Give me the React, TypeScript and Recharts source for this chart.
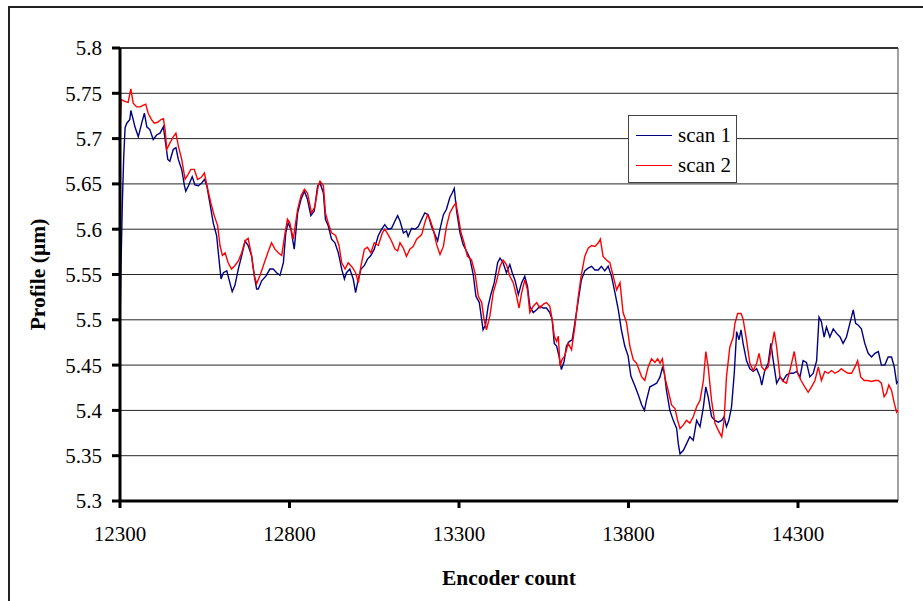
import React from 'react'
import { LineChart, Line, XAxis, YAxis, CartesianGrid, ReferenceLine } from 'recharts'

// scan 1 (navy) — encoder positions and profile
const scan1Enc = [
  12300, 12303, 12307, 12311, 12315, 12320, 12329, 12332, 12339, 12344, 12354, 12364, 12372, 12379, 12388, 12398,
  12408, 12418, 12428, 12433, 12441, 12447, 12457, 12465, 12472, 12482, 12490, 12494, 12502, 12513, 12521, 12531,
  12541, 12549, 12556, 12565, 12575, 12585, 12592, 12598, 12605, 12615, 12624, 12631, 12639, 12649, 12659, 12669,
  12678, 12688, 12696, 12703, 12708, 12718, 12732, 12742, 12752, 12762, 12772, 12782, 12789, 12796, 12804, 12814,
  12824, 12834, 12844, 12853, 12863, 12873, 12883, 12890, 12900, 12906, 12914, 12924, 12934, 12944, 12954, 12962,
  12968, 12978, 12988, 12995, 13003, 13011, 13021, 13030, 13040, 13050, 13062,
  13072, 13081, 13091, 13101, 13111, 13119, 13126, 13136, 13145, 13150, 13160, 13170, 13180, 13190, 13199, 13209,
  13219, 13229, 13237, 13244, 13254, 13263, 13273, 13280, 13286, 13293, 13303, 13312, 13322, 13332, 13342, 13350,
  13360, 13367, 13371, 13378, 13386, 13394, 13404, 13414, 13421, 13430, 13440, 13450, 13457, 13465, 13475, 13485,
  13494, 13502, 13509, 13519, 13529, 13539, 13548, 13558, 13568, 13575, 13581, 13588, 13595, 13602, 13610, 13617,
  13625, 13634, 13642, 13652, 13661, 13671, 13681, 13691, 13701, 13711, 13720, 13730, 13740, 13750, 13760, 13770,
  13779, 13789, 13799, 13807, 13819, 13829,
  13839, 13847, 13853, 13863, 13873, 13883, 13893, 13900, 13906, 13912, 13922, 13932, 13942, 13947, 13952, 13962,
  13971, 13981, 13991, 14001, 14011, 14021, 14028, 14035, 14045, 14055, 14065, 14075, 14082, 14089, 14096, 14104,
  14112, 14119, 14126, 14132, 14138, 14148, 14158, 14168, 14178, 14188, 14193, 14202, 14212, 14220, 14227, 14237,
  14247, 14256, 14266, 14276, 14286, 14296, 14306, 14315, 14325, 14335, 14345, 14355, 14362, 14369, 14377, 14384,
  14394, 14404, 14414, 14424, 14433, 14443, 14453, 14463, 14470, 14478, 14487, 14497, 14507, 14517, 14527, 14537,
  14546, 14556, 14566, 14576, 14584, 14591, 14595,
]
const scan1Profile = [
  5.495, 5.56, 5.63, 5.68, 5.712, 5.717, 5.721, 5.731, 5.721, 5.713, 5.702, 5.717, 5.728, 5.713, 5.71, 5.699,
  5.704, 5.706, 5.713, 5.699, 5.677, 5.675, 5.688, 5.69, 5.677, 5.666, 5.648, 5.642, 5.648, 5.658, 5.649, 5.648,
  5.651, 5.655, 5.648, 5.629, 5.607, 5.593, 5.567, 5.545, 5.552, 5.554, 5.541, 5.531, 5.538, 5.556, 5.571, 5.587,
  5.582, 5.571, 5.549, 5.534, 5.534, 5.543, 5.549, 5.556, 5.556, 5.552, 5.549, 5.563, 5.596, 5.607, 5.6, 5.578,
  5.618, 5.633, 5.642, 5.633, 5.615, 5.62, 5.648, 5.651, 5.64, 5.611, 5.604, 5.589, 5.585, 5.574, 5.556, 5.545,
  5.552, 5.556, 5.545, 5.53, 5.545, 5.556, 5.56, 5.567, 5.571, 5.578, 5.593,
  5.6, 5.605, 5.6, 5.601, 5.609, 5.615, 5.609, 5.596, 5.598, 5.592, 5.601, 5.6, 5.603, 5.611, 5.618, 5.616,
  5.603, 5.594, 5.587, 5.6, 5.616, 5.622, 5.635, 5.64, 5.645, 5.62, 5.596, 5.583, 5.576, 5.568, 5.55, 5.526,
  5.519, 5.5, 5.489, 5.494, 5.515, 5.528, 5.541, 5.563, 5.568, 5.563, 5.552, 5.561, 5.552, 5.544, 5.528, 5.541,
  5.548, 5.537, 5.515, 5.508, 5.511, 5.515, 5.513, 5.513, 5.508, 5.5, 5.474, 5.471, 5.46, 5.445, 5.454, 5.471,
  5.476, 5.478, 5.497, 5.522, 5.544, 5.554, 5.557, 5.559, 5.555, 5.555, 5.559, 5.554, 5.559, 5.548, 5.53, 5.511,
  5.489, 5.471, 5.46, 5.438, 5.427, 5.417,
  5.406, 5.4, 5.411, 5.426, 5.428, 5.43, 5.437, 5.447, 5.441, 5.422, 5.4, 5.389, 5.38, 5.363, 5.352, 5.356,
  5.363, 5.371, 5.367, 5.389, 5.382, 5.404, 5.426, 5.415, 5.393, 5.389, 5.387, 5.389, 5.393, 5.382, 5.389, 5.404,
  5.441, 5.487, 5.478, 5.489, 5.474, 5.455, 5.446, 5.443, 5.446, 5.437, 5.428, 5.444, 5.452, 5.474, 5.455, 5.43,
  5.437, 5.433, 5.439, 5.441, 5.441, 5.443, 5.437, 5.455, 5.453, 5.437, 5.441, 5.455, 5.503, 5.498, 5.481, 5.492,
  5.481, 5.49, 5.485, 5.481, 5.474, 5.481, 5.496, 5.511, 5.496, 5.494, 5.49, 5.474, 5.463, 5.459, 5.463, 5.465,
  5.45, 5.45, 5.459, 5.459, 5.448, 5.43, 5.432,
]

// scan 2 (red)
const scan2Enc = [
  12300, 12304, 12314, 12324, 12332, 12339, 12349, 12359, 12369, 12376, 12383, 12393, 12401, 12411, 12421, 12428,
  12433, 12438, 12447, 12457, 12465, 12472, 12482, 12492, 12500, 12509, 12519, 12529, 12539, 12549, 12559, 12568,
  12578, 12588, 12595, 12602, 12610, 12619, 12629, 12639, 12649, 12659, 12669, 12678, 12688, 12696, 12703, 12713,
  12723, 12736, 12747, 12757, 12767, 12777, 12787, 12794, 12801, 12811, 12824, 12834, 12844, 12853, 12865, 12875,
  12885, 12890, 12900, 12906, 12914, 12924, 12936, 12946, 12954, 12964, 12973, 12985, 12995, 13003, 13011, 13021,
  13030, 13040, 13050, 13062,
  13074, 13081, 13091, 13101, 13111, 13119, 13126, 13136, 13145, 13155, 13165, 13175, 13190, 13199, 13207, 13214,
  13224, 13234, 13244, 13254, 13263, 13273, 13283, 13291, 13298, 13306, 13315, 13325, 13337, 13347, 13357, 13367,
  13374, 13381, 13391, 13401, 13411, 13421, 13430, 13440, 13450, 13460, 13470, 13477, 13485, 13494, 13502, 13509,
  13519, 13529, 13539, 13548, 13558, 13568, 13575, 13581, 13588, 13593, 13598, 13604, 13612, 13622, 13632, 13642,
  13652, 13661, 13671, 13681, 13691, 13701, 13711, 13717, 13725, 13735, 13745, 13755, 13765, 13775, 13784, 13794,
  13804, 13814, 13824, 13833,
  13839, 13848, 13858, 13868, 13878, 13886, 13893, 13900, 13907, 13917, 13927, 13937, 13945, 13952, 13962, 13971,
  13981, 13991, 14001, 14011, 14021, 14028, 14035, 14045, 14055, 14065, 14075, 14082, 14089, 14099, 14109, 14114,
  14122, 14132, 14138, 14148, 14158, 14168, 14178, 14185, 14193, 14202, 14212, 14222, 14230, 14237, 14247, 14256,
  14266, 14276, 14289, 14299, 14309, 14320, 14330, 14340, 14350, 14360, 14369, 14379, 14389, 14399, 14409, 14419,
  14428, 14438, 14448, 14458, 14468, 14476, 14485, 14495, 14505, 14517, 14527, 14537, 14546, 14554, 14561, 14568,
  14576, 14584, 14591, 14595,
]
const scan2Profile = [
  5.712, 5.743, 5.741, 5.74, 5.755, 5.739, 5.735, 5.735, 5.737, 5.738, 5.728, 5.721, 5.717, 5.718, 5.721, 5.722,
  5.71, 5.688, 5.695, 5.702, 5.706, 5.692, 5.677, 5.655, 5.66, 5.666, 5.666, 5.655, 5.657, 5.662, 5.644, 5.629,
  5.615, 5.604, 5.582, 5.571, 5.574, 5.563, 5.556, 5.56, 5.565, 5.574, 5.587, 5.59, 5.571, 5.549, 5.54, 5.549,
  5.56, 5.574, 5.585, 5.578, 5.574, 5.571, 5.596, 5.611, 5.607, 5.589, 5.622, 5.637, 5.644, 5.64, 5.618, 5.625,
  5.648, 5.653, 5.648, 5.618, 5.607, 5.596, 5.593, 5.582, 5.563, 5.556, 5.563, 5.558, 5.552, 5.541, 5.56, 5.578,
  5.58, 5.574, 5.585, 5.582,
  5.596, 5.6, 5.594, 5.587, 5.578, 5.576, 5.585, 5.579, 5.57, 5.578, 5.581, 5.589, 5.594, 5.607, 5.616, 5.611,
  5.6, 5.583, 5.572, 5.581, 5.603, 5.618, 5.625, 5.629, 5.614, 5.596, 5.585, 5.57, 5.566, 5.552, 5.526, 5.519,
  5.5, 5.489, 5.504, 5.53, 5.543, 5.559, 5.566, 5.561, 5.548, 5.541, 5.526, 5.513, 5.53, 5.544, 5.533, 5.508,
  5.515, 5.519, 5.513, 5.517, 5.519, 5.515, 5.5, 5.482, 5.476, 5.482, 5.449, 5.456, 5.46, 5.474, 5.467, 5.493,
  5.526, 5.55, 5.57, 5.579, 5.582, 5.581, 5.585, 5.589, 5.57, 5.566, 5.563, 5.548, 5.533, 5.541, 5.508, 5.497,
  5.471, 5.456, 5.452, 5.443,
  5.437, 5.433, 5.448, 5.457, 5.453, 5.457, 5.452, 5.457, 5.437, 5.422, 5.406, 5.402, 5.389, 5.38, 5.384, 5.389,
  5.386, 5.393, 5.404, 5.411, 5.433, 5.465, 5.448, 5.411, 5.386, 5.378, 5.371, 5.389, 5.437, 5.47, 5.481, 5.496,
  5.507, 5.507, 5.501, 5.478, 5.452, 5.444, 5.452, 5.463, 5.448, 5.444, 5.448, 5.47, 5.487, 5.47, 5.437, 5.432,
  5.43, 5.444, 5.465, 5.441, 5.433, 5.426, 5.42, 5.426, 5.433, 5.448, 5.433, 5.443, 5.441, 5.444, 5.441, 5.443,
  5.446, 5.443, 5.441, 5.441, 5.448, 5.455, 5.437, 5.433, 5.433, 5.432, 5.433, 5.433, 5.43, 5.415, 5.419, 5.428,
  5.422, 5.408, 5.398, 5.4,
]

const xTicks = [12300, 12800, 13300, 13800, 14300]
const yTicks = [5.3, 5.35, 5.4, 5.45, 5.5, 5.55, 5.6, 5.65, 5.7, 5.75, 5.8]
const legendItems = [
  { name: 'scan 1', color: '#000080' },
  { name: 'scan 2', color: '#ff0000' },
]

const scan1 = scan1Enc.map((enc, i) => ({ enc, profile: scan1Profile[i] }))
const scan2 = scan2Enc.map((enc, i) => ({ enc, profile: scan2Profile[i] }))

const FONT = '"Liberation Serif", "Times New Roman", serif'

function XTick({ x, y, payload }: any) {
  return (
    <text x={x} y={y} dy="0.71em" textAnchor="middle" fontFamily={FONT} fontSize={21} fill="#000">
      {payload.value}
    </text>
  )
}

function YTick({ x, y, payload }: any) {
  return (
    <text x={x} y={y} dy="0.355em" textAnchor="end" fontFamily={FONT} fontSize={21} fill="#000">
      {String(+Number(payload.value).toFixed(2))}
    </text>
  )
}

function LegendBox() {
  return (
    <div style={{
      position: 'absolute', left: 628, top: 115, width: 109, height: 68,
      border: '1px solid #444', background: '#fff', boxSizing: 'border-box', paddingTop: 4,
      fontFamily: FONT, fontSize: 21, color: '#000',
    }}>
      {legendItems.map(it => (
        <div key={it.name} style={{ display: 'flex', alignItems: 'center', height: 30 }}>
          <span style={{ display: 'inline-block', width: 36, borderTop: `1.5px solid ${it.color}`, marginLeft: 7, marginRight: 6 }} />
          <span>{it.name}</span>
        </div>
      ))}
    </div>
  )
}

export default function App() {
  return (
    <div style={{ position: 'absolute', left: 0, top: 0, width: 923, height: 601, overflow: 'hidden', background: '#fff', fontFamily: FONT }}>
      <div style={{ position: 'absolute', left: 8, top: 6, width: 1000, height: 1000, border: '2px solid #222' }} />
      <div style={{ position: 'absolute', left: 0, top: 0 }}>
        <LineChart width={923} height={601} margin={{ top: 48, right: 25, bottom: 70, left: 60 }}>
          <CartesianGrid horizontal vertical={false} stroke="#000" strokeOpacity={0.85} />
          <XAxis
            type="number" dataKey="enc" domain={[12300, 14595]} ticks={xTicks} allowDataOverflow
            height={30} tickSize={7} tickMargin={18} tick={<XTick />}
            axisLine={{ stroke: '#000', strokeWidth: 3 }} tickLine={{ stroke: '#000', strokeWidth: 3 }}
            label={{
              content: ({ viewBox }: any) => (
                <text x={viewBox.x + viewBox.width / 2} y={viewBox.y + 84} textAnchor="middle"
                  fontFamily={FONT} fontWeight="bold" fontSize={21.5} fill="#000">Encoder count</text>
              ),
            }}
          />
          <YAxis
            type="number" domain={[5.3, 5.8]} ticks={yTicks} allowDataOverflow
            width={60} tickSize={8} tickMargin={10} tick={<YTick />}
            axisLine={{ stroke: '#000', strokeWidth: 3 }} tickLine={{ stroke: '#000', strokeWidth: 3 }}
            label={{
              content: ({ viewBox }: any) => {
                const cx = viewBox.x - 22
                const cy = viewBox.y + viewBox.height / 2
                return (
                  <text x={cx} y={cy} transform={`rotate(-90, ${cx}, ${cy})`} textAnchor="middle" dominantBaseline="central"
                    fontFamily={FONT} fontWeight="bold" fontSize={21.5} fill="#000">Profile (µm)</text>
                )
              },
            }}
          />
          <ReferenceLine y={5.8} stroke="#333" strokeWidth={2} />
          <ReferenceLine x={14595} stroke="#444" strokeWidth={1} />
          <Line data={scan1} dataKey="profile" name="scan 1" stroke="#000080" strokeWidth={1.4} dot={false} isAnimationActive={false} />
          <Line data={scan2} dataKey="profile" name="scan 2" stroke="#ff0000" strokeWidth={1.4} dot={false} isAnimationActive={false} />
        </LineChart>
      </div>
      <LegendBox />
    </div>
  )
}
